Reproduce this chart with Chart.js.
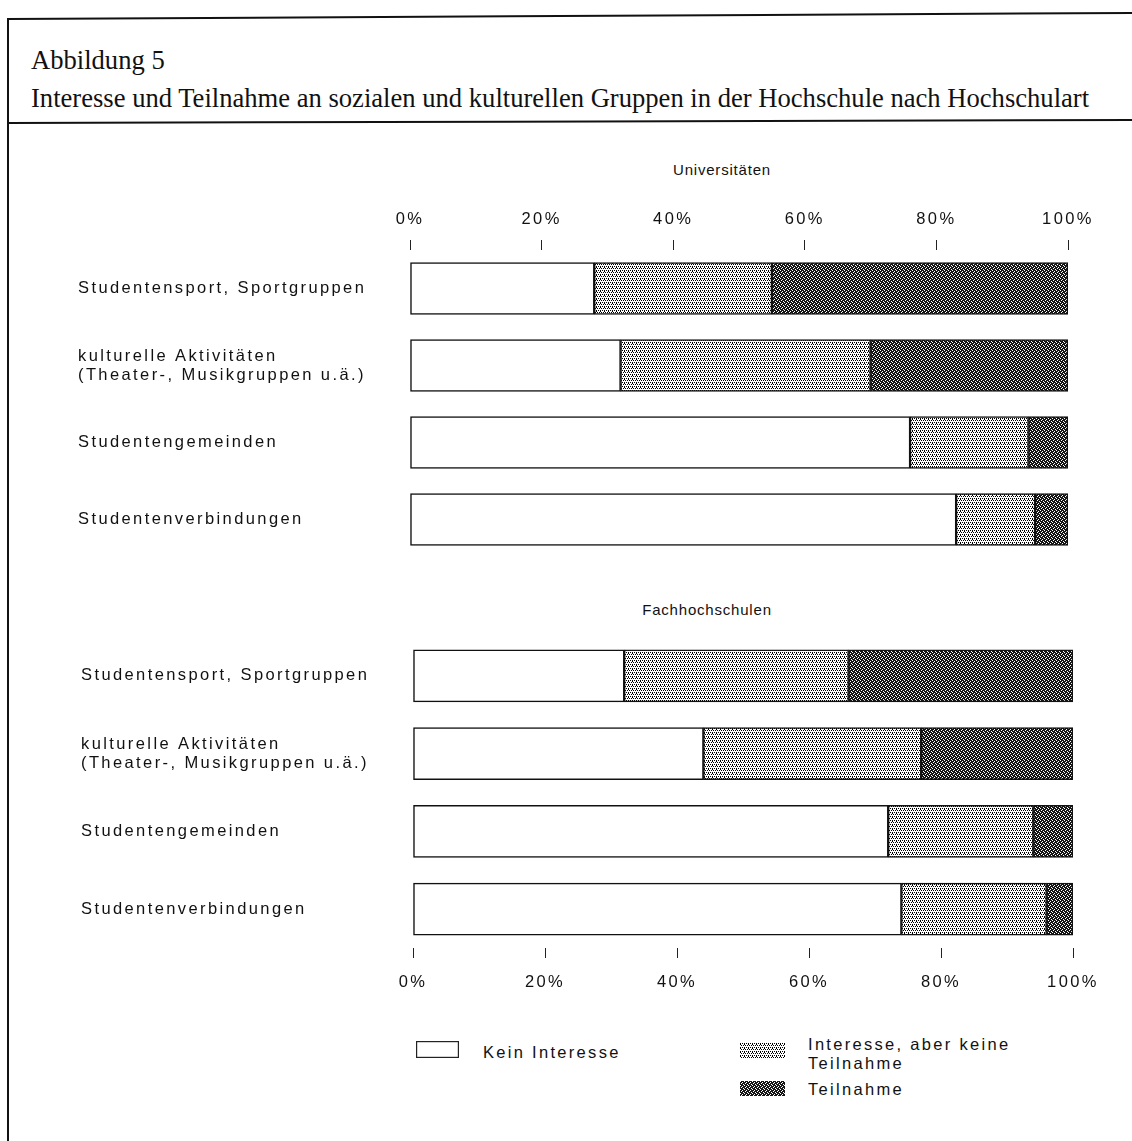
<!DOCTYPE html>
<html><head><meta charset="utf-8">
<script src="https://cdn.jsdelivr.net/npm/chart.js@4.4.1/dist/chart.umd.min.js"></script>
<style>
html,body{margin:0;padding:0;background:#fff;}
#page{position:relative;width:1132px;height:1141px;overflow:hidden;background:#fff;font-family:"Liberation Sans",Arial,sans-serif;color:#111;}
.abs{position:absolute;white-space:nowrap;line-height:1;}
.serif{font-family:"Liberation Serif","Times New Roman",serif;font-size:26.6px;}
.sans{font-size:16.5px;letter-spacing:2.3px;}
.sub{font-size:15px;letter-spacing:0.8px;}
.ctr{transform:translateX(-50%);}
canvas.chart{position:absolute;left:0;}
canvas.sw{position:absolute;}
</style></head><body>
<div id="page">
<svg width="1132" height="1141" style="position:absolute;left:0;top:0">
 <line x1="8" y1="19" x2="1132" y2="13" stroke="#111" stroke-width="2"/>
 <line x1="8" y1="18" x2="8" y2="1141" stroke="#111" stroke-width="2"/>
 <line x1="8" y1="123" x2="1132" y2="120" stroke="#111" stroke-width="2"/>
</svg>
<div class="abs serif" style="left:31px;top:47px;">Abbildung 5</div>
<div class="abs serif" style="left:31px;top:85px;">Interesse und Teilnahme an sozialen und kulturellen Gruppen in der Hochschule nach Hochschulart</div>
<div class="abs sub ctr" style="left:722px;top:162px;">Universitäten</div>
<div class="abs sub ctr" style="left:707px;top:602px;">Fachhochschulen</div>
<canvas id="c1" class="chart" width="1132" height="380" style="top:190px"></canvas>
<canvas id="c2" class="chart" width="1132" height="420" style="top:600px"></canvas>
<canvas id="s0" class="sw" width="43" height="17" style="left:416px;top:1041px"></canvas>
<canvas id="s1" class="sw" width="45" height="15" style="left:740px;top:1043px"></canvas>
<canvas id="s2" class="sw" width="45" height="15" style="left:740px;top:1081px"></canvas>
<div class="abs sans" style="left:483px;top:1044px;">Kein Interesse</div>
<div class="abs sans" style="left:808px;top:1036px;">Interesse, aber keine</div>
<div class="abs sans" style="left:808px;top:1055px;">Teilnahme</div>
<div class="abs sans" style="left:808px;top:1081px;">Teilnahme</div>
</div>
<script>
// ---- data ----
const categories = [
  "Studentensport, Sportgruppen",
  ["kulturelle Aktivitäten", "(Theater-, Musikgruppen u.ä.)"],
  "Studentengemeinden",
  "Studentenverbindungen"
];
const seriesNames = ["Kein Interesse", "Interesse, aber keine Teilnahme", "Teilnahme"];
const uniKein       = [28, 32, 76, 83];
const uniInteresse  = [27, 38, 18, 12];
const uniTeilnahme  = [45, 30, 6, 5];
const fhKein        = [32, 44, 72, 74];
const fhInteresse   = [34, 33, 22, 22];
const fhTeilnahme   = [34, 23, 6, 4];
const tickValues    = [0, 20, 40, 60, 80, 100];

// ---- patterns ----
function makeTile(bg, fg, dots) {
  const c = document.createElement('canvas');
  c.width = 4; c.height = 4;
  const x = c.getContext('2d');
  x.fillStyle = bg; x.fillRect(0, 0, 4, 4);
  x.fillStyle = fg;
  dots.forEach(([a, b]) => x.fillRect(a, b, 1, 1));
  return c;
}
const lightTile = makeTile('#ffffff', '#000000', [[0,0],[2,0],[1,2],[3,2],[0,1]]);
const darkTile  = makeTile('#151515', '#ffffff', [[0,0],[2,1],[1,2],[3,3]]);
function pat(ctx, tile) { return ctx.createPattern(tile, 'repeat'); }

const FONT = "'Liberation Sans', Arial, sans-serif";
const lsPlugin = {
  id: 'ls',
  beforeUpdate(chart) { chart.ctx.letterSpacing = '2.4px'; },
  beforeDraw(chart) { chart.ctx.letterSpacing = '2.4px'; }
};

function buildChart(id, kein, inter, teil, pos, pad, axisH, yWidth, tickPad) {
  const canvas = document.getElementById(id);
  const ctx = canvas.getContext('2d');
  const common = { borderColor: '#111', borderWidth: 1.5, borderSkipped: false, barThickness: 52 };
  return new Chart(ctx, {
    type: 'bar',
    data: {
      labels: categories,
      datasets: [
        Object.assign({ label: seriesNames[0], data: kein, backgroundColor: '#ffffff' }, common),
        Object.assign({ label: seriesNames[1], data: inter, backgroundColor: pat(ctx, lightTile) }, common),
        Object.assign({ label: seriesNames[2], data: teil, backgroundColor: pat(ctx, darkTile) }, common)
      ]
    },
    options: {
      indexAxis: 'y', responsive: false, animation: false, devicePixelRatio: 1,
      layout: { padding: pad },
      plugins: { legend: { display: false }, tooltip: { enabled: false }, title: { display: false } },
      scales: {
        x: {
          type: 'linear', position: pos, stacked: true, min: 0, max: 100,
          afterBuildTicks: s => { s.ticks = tickValues.map(v => ({ value: v })); },
          afterFit: s => { s.height = axisH; },
          ticks: { callback: v => v + '%', padding: tickPad, color: '#111', font: { family: FONT, size: 16.5 }, maxRotation: 0, autoSkip: false },
          grid: { drawOnChartArea: false, drawTicks: true, tickLength: 10, color: '#222', lineWidth: 1 },
          border: { display: false }
        },
        y: {
          stacked: true, position: 'left',
          afterFit: s => { s.width = yWidth; },
          ticks: { crossAlign: 'far', padding: 0, color: '#111', font: { family: FONT, size: 16.5, lineHeight: 1.15 } },
          grid: { display: false }, border: { display: false }
        }
      }
    },
    plugins: [lsPlugin]
  });
}

buildChart('c1', uniKein, uniInteresse, uniTeilnahme, 'top',
  { left: 78, right: 64, top: 0, bottom: 12 }, 60, 332, 11);
buildChart('c2', fhKein, fhInteresse, fhTeilnahme, 'bottom',
  { left: 81, right: 59, top: 37, bottom: 0 }, 72, 332, 15);

// legend swatches
function swatch(id, fill) {
  const c = document.getElementById(id);
  const x = c.getContext('2d');
  x.fillStyle = fill === 'white' ? '#fff' : x.createPattern(fill, 'repeat');
  x.fillRect(0, 0, c.width, c.height);
  if (fill === 'white') { x.strokeStyle = '#222'; x.lineWidth = 1.2; x.strokeRect(0.6, 0.6, c.width - 1.2, c.height - 1.2); }
}
swatch('s0', 'white');
swatch('s1', lightTile);
swatch('s2', darkTile);
</script>
</body></html>
